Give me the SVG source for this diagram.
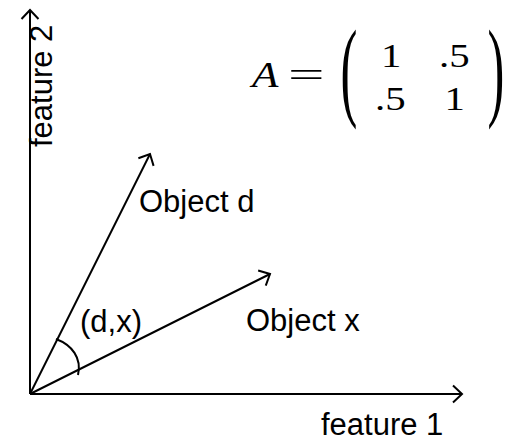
<svg xmlns="http://www.w3.org/2000/svg" width="510" height="442" viewBox="0 0 510 442">
<style>
.ln{stroke:#000;stroke-width:2;fill:none}
.t{font-family:"Liberation Sans",Arial,sans-serif;font-size:31px;fill:#000}
.m{font-family:"Liberation Serif","Times New Roman",serif;fill:#000}
</style>
<defs>
<marker id="ah" markerUnits="userSpaceOnUse" markerWidth="24" markerHeight="24" viewBox="-12 -12 24 24" refX="0" refY="0" orient="auto">
<path d="M -9 -8.5 L 0 0 L -9 8.5" fill="none" stroke="#000" stroke-width="2"/>
</marker>
</defs>
<rect width="510" height="442" fill="#fff"/>
<g id="connectors">
<line class="ln" x1="30" y1="394" x2="462" y2="394" marker-end="url(#ah)"/>
<line class="ln" x1="30" y1="394" x2="30" y2="10" marker-end="url(#ah)"/>
<line class="ln" x1="30" y1="394" x2="150" y2="154" marker-end="url(#ah)"/>
<line class="ln" x1="30" y1="394" x2="270" y2="274" marker-end="url(#ah)"/>
<path class="ln" d="M 56 339 C 72 345, 82 358, 78 375"/>
</g>
<g id="feature2"><text class="t" transform="translate(52,147) rotate(-90)">feature 2</text></g>
<g id="feature1"><text class="t" x="321" y="435">feature 1</text></g>
<g id="objectd"><text class="t" x="139" y="212">Object d</text></g>
<g id="objectx"><text class="t" x="246" y="331">Object x</text></g>
<g id="angle"><text class="t" x="80" y="332">(d,x)</text></g>
<g id="matrix">
<text class="m" transform="translate(252,87) scale(1.2,1)" style="font-size:36px;font-style:italic">A</text>
<text class="m" transform="translate(288,87) scale(1.8,1)" style="font-size:36px">=</text>
<text class="m" transform="translate(340.6,105.5) scale(1.1,2.4)" style="font-size:46px">(</text>
<text class="m" transform="translate(487.6,105.5) scale(1.1,2.4)" style="font-size:46px">)</text>
<text class="m" transform="translate(381,67) scale(1.2,1)" style="font-size:34px">1</text>
<text class="m" transform="translate(439,67) scale(1.2,1)" style="font-size:34px">.5</text>
<text class="m" transform="translate(375,110) scale(1.2,1)" style="font-size:34px">.5</text>
<text class="m" transform="translate(444.5,110) scale(1.2,1)" style="font-size:34px">1</text>
</g>
</svg>
